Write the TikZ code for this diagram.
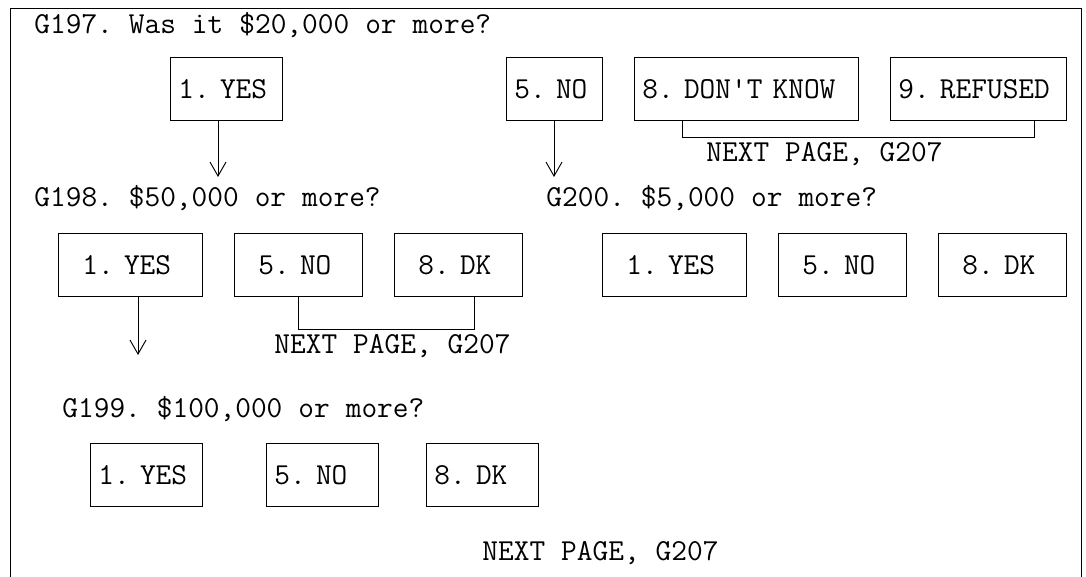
\documentclass[tikz,border=0pt]{standalone}
\usetikzlibrary{arrows.meta,positioning}
\newcommand\formfont{\ttfamily\fontsize{22.86pt}{27pt}\selectfont\frenchspacing\spaceskip 12pt\relax}

\begin{document}
\begin{tikzpicture}[x=0.75pt, y=-0.75pt, line width=0.7pt,
    >={Straight Barb[length=10.5pt,width=12pt]},
    every node/.style={font=\formfont, inner sep=0pt},
    ask/.style={anchor=base west},
    ansbox/.style={draw, anchor=north west, inner xsep=6pt, inner ysep=0pt,
      minimum height=47.6pt, text height=14.6pt, text depth=0pt},
    pad/.style={inner xsep=18pt}]
    \useasboundingbox (0,0) rectangle (1086,577);
    \draw (10,577) -- (10,8) -- (1081,8) -- (1081,577);

    \node[ask] (q197) at (34,34) {G197. Was it \$20,000 or more?};
    \node[ansbox, text width=72pt] (yes197) at (170,56.7) {1. YES};
    \node[ansbox, text width=60pt] (no197) at (506,56.7) {5. NO};
    \node[ansbox, text width=156pt] (dk197) at (634,56.7) {8. DON\textquotesingle{}T KNOW};
    \node[ansbox, text width=120pt] (rf197) at (890,56.7) {9. REFUSED};
    \coordinate (to198) at (218,177);
    \coordinate (to200) at (554,177);
    \draw[->] ([xshift=36pt]yes197.south west) -- (to198);
    \draw[->] ([xshift=36pt]no197.south west) -- (to200);
    \draw ([xshift=36pt]dk197.south west) |- ([xshift=108pt,yshift=-12.5pt]rf197.south west)
      -- ([xshift=108pt]rf197.south west);
    \node[ask] (skip197) at (706,161.7) {NEXT PAGE, G207};

    \node[ask] (q198) at (34,207) {G198. \$50,000 or more?};
    \node[ansbox, pad, text width=72pt] (yes198) at (58,233) {1. YES};
    \node[ansbox, pad, text width=60pt] (no198) at (234,233) {5. NO};
    \node[ansbox, pad, text width=60pt] (dk198) at (394,233) {8. DK};
    \coordinate (to199) at (138,355);
    \draw[->] ([xshift=60pt]yes198.south west) -- (to199);
    \draw ([xshift=48pt]no198.south west) |- ([xshift=60pt,yshift=-24pt]dk198.south west)
      -- ([xshift=60pt]dk198.south west);
    \node[ask] (skip198) at (274,353.3) {NEXT PAGE, G207};

    \node[ask] (q200) at (546,207) {G200. \$5,000 or more?};
    \node[ansbox, pad, text width=72pt] (yes200) at (602,233) {1. YES};
    \node[ansbox, pad, text width=60pt] (no200) at (778,233) {5. NO};
    \node[ansbox, pad, text width=60pt] (dk200) at (938,233) {8. DK};

    \node[ask] (q199) at (62,417) {G199. \$100,000 or more?};
    \node[ansbox, text width=72pt] (yes199) at (90,443) {1. YES};
    \node[ansbox, text width=72pt] (no199) at (266,443) {5. NO};
    \node[ansbox, text width=72pt] (dk199) at (426,443) {8. DK};
    \node[ask] (skip199) at (482,560) {NEXT PAGE, G207};
\end{tikzpicture}
\end{document}
